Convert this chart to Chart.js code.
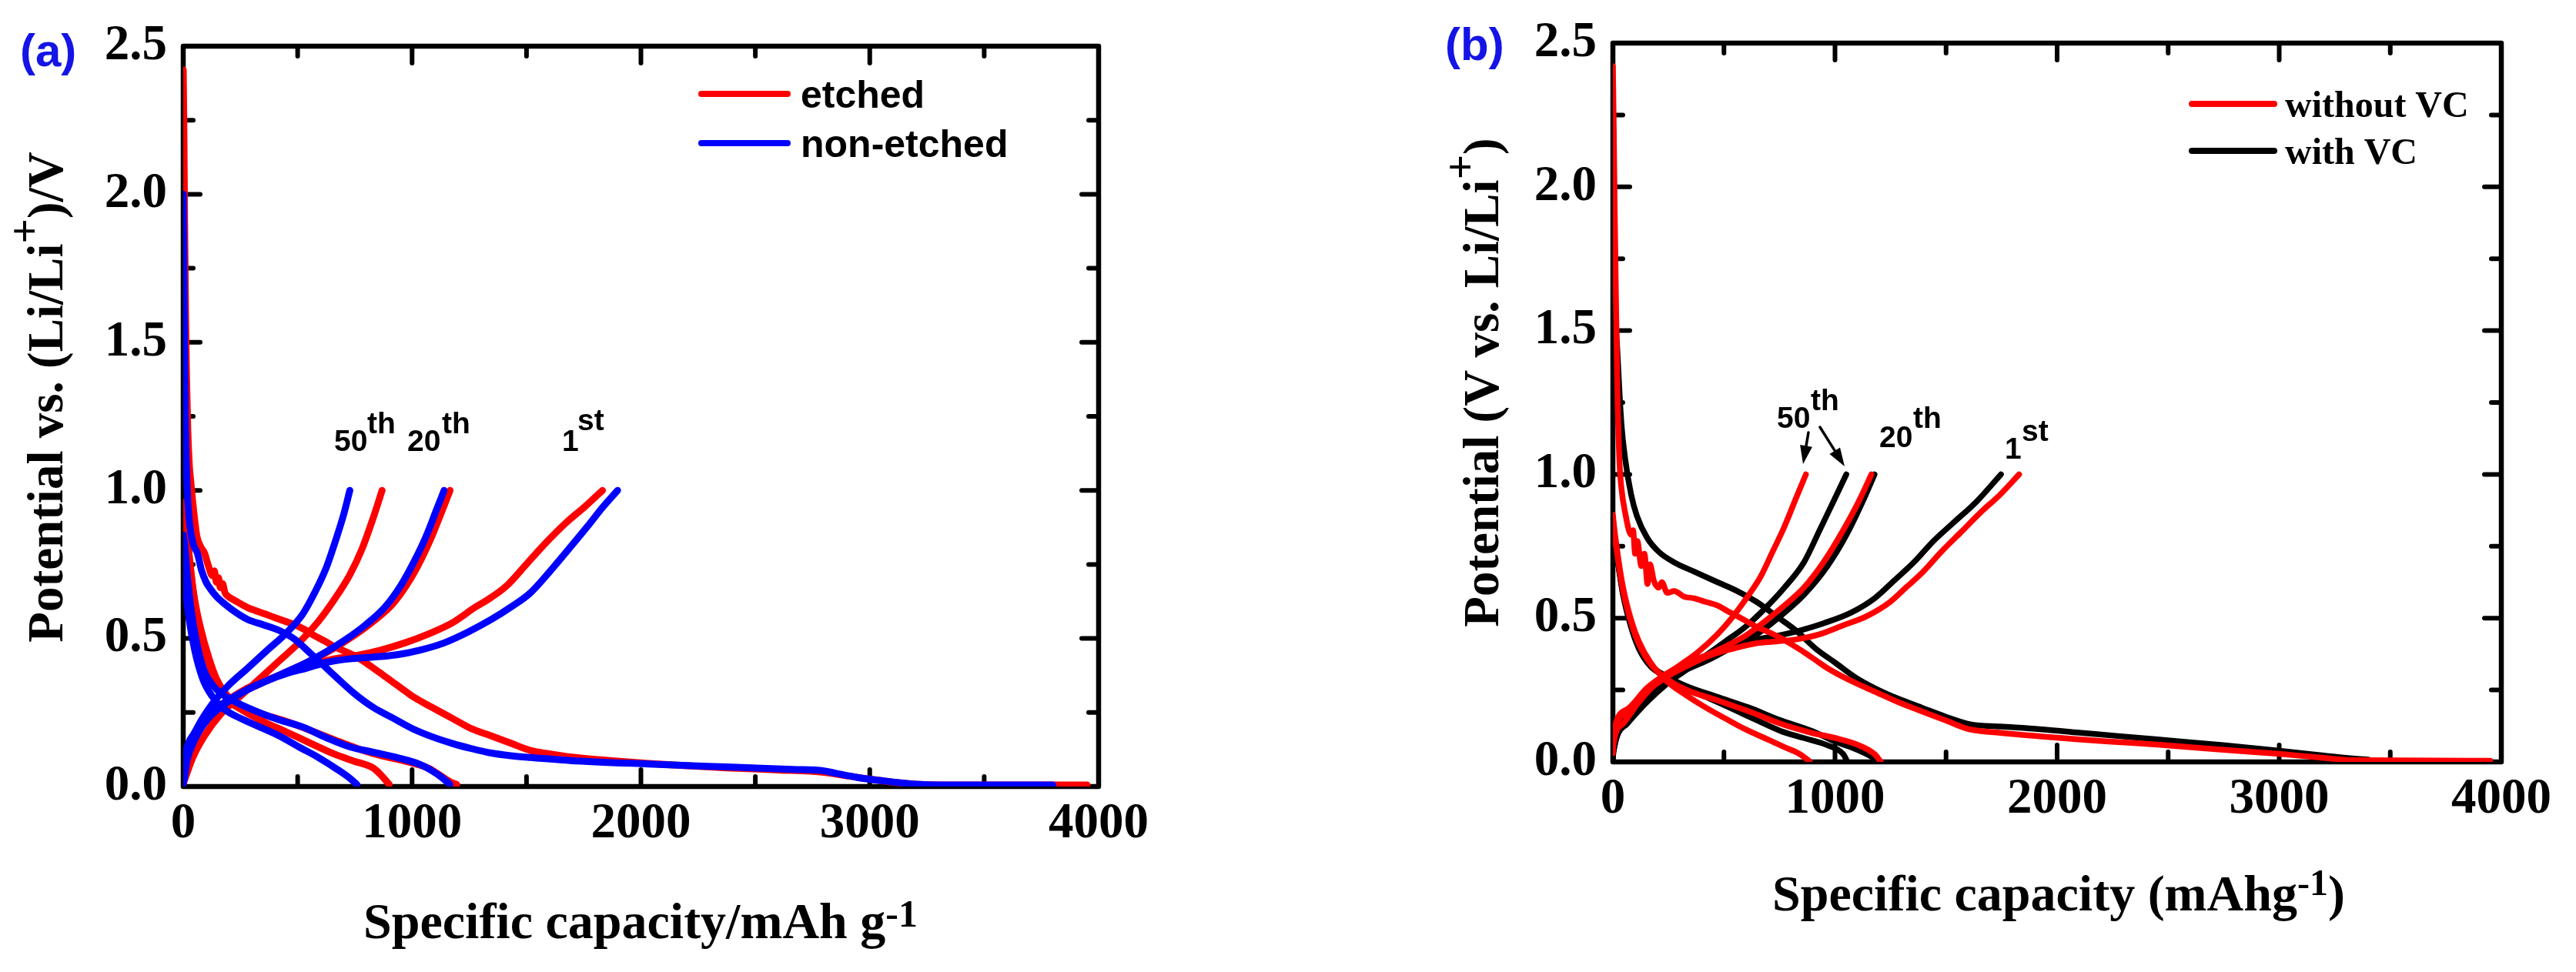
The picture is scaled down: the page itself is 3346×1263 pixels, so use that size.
<!DOCTYPE html>
<html><head><meta charset="utf-8">
<script src="https://cdn.jsdelivr.net/npm/chart.js@4.4.0/dist/chart.umd.min.js"></script>
<style>
html,body{margin:0;padding:0;background:#fff;overflow:hidden}
#wrap{position:relative;width:3346px;height:1263px;background:#fff}
canvas{position:absolute;top:0}
</style></head><body>
<div id="wrap">
<canvas id="ca" width="1673" height="1263" style="left:0;width:1673px;height:1263px"></canvas>
<canvas id="cb" width="1673" height="1263" style="left:1673px;width:1673px;height:1263px"></canvas>
</div>
<script>
// ---------- tick labels ----------
const xTickValues = [0, 1000, 2000, 3000, 4000];
const xTickLabels = ['0', '1000', '2000', '3000', '4000'];
const yTickValues = [0, 0.5, 1.0, 1.5, 2.0, 2.5];
const yTickLabels = ['0.0', '0.5', '1.0', '1.5', '2.0', '2.5'];

// ---------- panel (a): etched (red) / non-etched (blue) ----------
const aEtchedDis1 = [[0,2.42],[3,2.2],[6,1.9],[10,1.6],[14,1.39],[20,1.2],[27,1.08],[33,1.03],[42,0.957],[59,0.848],[76,0.81],[93,0.788],[110,0.745],[127,0.712],[136,0.728],[145,0.69],[154,0.705],[162,0.672],[172,0.685],[182,0.655],[196,0.642],[222,0.63],[248,0.618],[282,0.604],[316,0.594],[360,0.582],[402,0.570],[445,0.558],[488,0.546],[530,0.530],[574,0.509],[616,0.492],[659,0.473],[702,0.458],[745,0.443],[788,0.423],[831,0.400],[874,0.376],[917,0.352],[960,0.328],[1003,0.304],[1088,0.267],[1174,0.231],[1260,0.195],[1346,0.171],[1432,0.146],[1517,0.122],[1603,0.110],[1689,0.100],[1861,0.088],[2032,0.078],[2204,0.070],[2376,0.063],[2600,0.056],[2800,0.048],[2900,0.036],[3000,0.025],[3100,0.015],[3200,0.008],[3400,0.005],[3950,0.005]];
const aEtchedDis20 = [[0,0.96],[7,0.945],[16,0.848],[33,0.727],[50,0.630],[76,0.534],[111,0.437],[145,0.364],[196,0.304],[265,0.267],[351,0.243],[454,0.219],[557,0.189],[659,0.158],[762,0.128],[865,0.104],[968,0.086],[1071,0.062],[1122,0.038],[1174,0.013],[1195,0.007]];
const aEtchedDis50 = [[0,0.94],[7,0.92],[25,0.788],[42,0.667],[67,0.546],[102,0.437],[145,0.352],[196,0.292],[265,0.255],[351,0.219],[454,0.183],[557,0.146],[659,0.110],[745,0.086],[831,0.062],[865,0.038],[900,0.007]];
const aEtchedChg1 = [[0,0.03],[7,0.062],[33,0.134],[76,0.201],[145,0.261],[230,0.310],[316,0.346],[402,0.370],[488,0.394],[574,0.413],[659,0.431],[762,0.443],[865,0.461],[968,0.485],[1071,0.515],[1174,0.552],[1277,0.606],[1329,0.630],[1415,0.679],[1500,0.751],[1586,0.824],[1672,0.890],[1758,0.947],[1832,1.0]];
const aEtchedChg20 = [[0,0.037],[25,0.110],[76,0.195],[145,0.255],[230,0.304],[316,0.340],[402,0.370],[488,0.400],[574,0.431],[659,0.467],[745,0.509],[831,0.558],[917,0.618],[985,0.691],[1037,0.763],[1088,0.848],[1132,0.933],[1166,1.0]];
const aEtchedChg50 = [[0,0.01],[7,0.025],[42,0.098],[93,0.171],[162,0.243],[248,0.304],[334,0.364],[420,0.425],[505,0.485],[591,0.558],[659,0.630],[728,0.715],[780,0.800],[831,0.909],[869,1.0]];

const aNonDis1 = [[0,2.0],[3,1.7],[6,1.45],[10,1.2],[16,1.03],[25,0.909],[42,0.824],[63,0.785],[80,0.73],[100,0.69],[119,0.667],[145,0.642],[179,0.618],[230,0.588],[282,0.564],[351,0.546],[420,0.527],[488,0.497],[540,0.461],[591,0.425],[659,0.376],[745,0.316],[831,0.267],[917,0.231],[1003,0.195],[1088,0.168],[1174,0.146],[1260,0.128],[1346,0.113],[1432,0.104],[1517,0.098],[1689,0.088],[2032,0.076],[2376,0.066],[2663,0.058],[2800,0.053],[2850,0.045],[2950,0.030],[3050,0.020],[3200,0.008],[3300,0.005],[3800,0.005]];
const aNonDis20 = [[0,0.85],[7,0.81],[16,0.727],[33,0.606],[59,0.485],[93,0.388],[145,0.328],[213,0.292],[316,0.255],[420,0.225],[522,0.201],[625,0.165],[728,0.134],[831,0.116],[934,0.098],[1037,0.074],[1106,0.044],[1157,0.013],[1165,0.007]];
const aNonDis50 = [[0,0.82],[4,0.788],[11,0.667],[25,0.570],[50,0.461],[85,0.364],[127,0.304],[179,0.261],[248,0.231],[334,0.201],[420,0.171],[505,0.134],[591,0.098],[677,0.056],[728,0.028],[759,0.007]];
const aNonChg1 = [[0,0.01],[4,0.025],[16,0.086],[50,0.158],[111,0.231],[196,0.286],[282,0.328],[368,0.358],[454,0.382],[540,0.400],[625,0.419],[728,0.431],[831,0.437],[934,0.445],[1037,0.461],[1140,0.485],[1243,0.521],[1346,0.564],[1432,0.606],[1517,0.654],[1603,0.727],[1689,0.806],[1766,0.878],[1835,0.945],[1898,1.0]];
const aNonChg20 = [[0,0.05],[7,0.098],[50,0.183],[111,0.243],[196,0.292],[282,0.328],[368,0.358],[454,0.388],[540,0.419],[625,0.455],[711,0.497],[797,0.546],[882,0.606],[951,0.679],[1011,0.763],[1063,0.848],[1106,0.933],[1140,1.0]];
const aNonChg50 = [[0,0.03],[10,0.09],[25,0.134],[67,0.207],[127,0.279],[196,0.340],[282,0.400],[368,0.461],[454,0.521],[522,0.582],[574,0.654],[625,0.739],[668,0.836],[702,0.921],[728,1.0]];

// ---------- panel (b): without VC (red) / with VC (black) ----------
const bWithoutDis1 = [[0,2.42],[4,2.2],[8,1.927],[15,1.553],[20,1.30],[29,1.055],[38,0.955],[55,0.868],[82,0.79],[91,0.806],[100,0.724],[110,0.768],[128,0.681],[142,0.724],[156,0.619],[167,0.687],[184,0.631],[206,0.606],[220,0.625],[245,0.588],[276,0.594],[320,0.575],[365,0.569],[420,0.556],[471,0.544],[515,0.525],[560,0.507],[605,0.488],[648,0.469],[700,0.452],[754,0.432],[806,0.408],[860,0.382],[913,0.354],[966,0.326],[1072,0.282],[1178,0.245],[1284,0.208],[1390,0.176],[1496,0.145],[1602,0.114],[1744,0.101],[1921,0.089],[2098,0.078],[2274,0.069],[2451,0.060],[2748,0.042],[3000,0.028],[3200,0.014],[3330,0.006],[3950,0.004]];
const bWithoutDis20 = [[0,0.85],[2,0.83],[20,0.72],[46,0.595],[82,0.485],[117,0.41],[170,0.34],[241,0.29],[330,0.251],[471,0.214],[612,0.176],[754,0.133],[895,0.101],[1001,0.083],[1107,0.058],[1178,0.027],[1205,0.002]];
const bWithoutDis50 = [[0,0.86],[2,0.843],[20,0.731],[46,0.606],[82,0.494],[117,0.419],[170,0.345],[241,0.282],[330,0.232],[418,0.189],[506,0.151],[595,0.114],[683,0.083],[771,0.052],[842,0.027],[886,0.002]];
const bWithoutChg1 = [[0,0.05],[2,0.083],[64,0.170],[153,0.245],[241,0.295],[330,0.332],[436,0.370],[542,0.394],[648,0.413],[736,0.419],[824,0.426],[931,0.444],[1037,0.475],[1143,0.507],[1249,0.557],[1319,0.606],[1390,0.656],[1479,0.731],[1567,0.799],[1656,0.868],[1744,0.930],[1829,1.0]];
const bWithoutChg20 = [[0,0.06],[2,0.096],[64,0.183],[153,0.257],[241,0.307],[330,0.345],[418,0.370],[506,0.401],[595,0.438],[683,0.488],[772,0.544],[860,0.606],[948,0.694],[1037,0.806],[1107,0.906],[1164,1.0]];
const bWithoutChg50 = [[0,0.03],[2,0.058],[46,0.133],[117,0.208],[206,0.282],[294,0.332],[383,0.382],[471,0.444],[542,0.507],[612,0.581],[665,0.644],[719,0.731],[772,0.818],[825,0.918],[869,1.0]];

const bWithDis1 = [[0,2.0],[5,1.75],[12,1.55],[20,1.43],[38,1.18],[55,1.055],[82,0.93],[108,0.856],[153,0.781],[206,0.731],[276,0.694],[365,0.662],[471,0.625],[560,0.594],[648,0.556],[736,0.507],[824,0.457],[913,0.394],[1001,0.345],[1090,0.295],[1178,0.257],[1284,0.220],[1390,0.189],[1496,0.158],[1614,0.13],[1744,0.123],[1921,0.114],[2098,0.102],[2274,0.090],[2451,0.078],[2748,0.058],[3000,0.039],[3200,0.022],[3330,0.012],[3400,0.008]];
const bWithDis20 = [[0,0.82],[2,0.80],[20,0.71],[46,0.585],[82,0.472],[117,0.398],[170,0.336],[241,0.298],[330,0.264],[471,0.226],[612,0.189],[754,0.145],[895,0.108],[1001,0.071],[1107,0.04],[1160,0.02],[1196,0.002]];
const bWithDis50 = [[0,0.82],[2,0.80],[20,0.706],[46,0.581],[82,0.469],[117,0.394],[170,0.332],[241,0.295],[330,0.257],[436,0.220],[542,0.183],[648,0.145],[754,0.108],[860,0.083],[966,0.058],[1037,0.027],[1055,0.002]];
const bWithChg1 = [[0,0.01],[2,0.033],[64,0.133],[153,0.220],[241,0.282],[330,0.326],[436,0.370],[542,0.401],[648,0.426],[736,0.438],[842,0.457],[948,0.482],[1072,0.519],[1178,0.569],[1267,0.631],[1355,0.694],[1443,0.768],[1532,0.831],[1638,0.906],[1747,1.0]];
const bWithChg20 = [[0,0.03],[2,0.058],[64,0.158],[153,0.232],[241,0.282],[330,0.320],[436,0.357],[542,0.401],[648,0.444],[754,0.507],[860,0.581],[966,0.681],[1054,0.793],[1125,0.906],[1178,1.0]];
const bWithChg50 = [[0,0.01],[2,0.033],[64,0.133],[153,0.208],[241,0.270],[330,0.320],[418,0.370],[506,0.419],[595,0.469],[683,0.532],[772,0.606],[860,0.694],[931,0.806],[993,0.906],[1051,1.0]];

const legendA = ['etched', 'non-etched'];
const legendB = ['without VC', 'with VC'];
const cycleLabels = [['50', 'th'], ['20', 'th'], ['1', 'st']];

// ---------- helpers ----------
const RED = '#ff0000', BLUE = '#0000ff', BLACK = '#000000';
function ds(arr, color, order, bw) {
  return {
    data: arr.map(p => ({x: p[0], y: p[1]})),
    borderColor: color, backgroundColor: color, borderWidth: bw,
    pointRadius: 0, fill: false, cubicInterpolationMode: 'monotone',
    borderCapStyle: 'round', borderJoinStyle: 'round', order: order
  };
}
// parts: [text, sizeScale, rise(px)]
function setF(ctx, size, sc, fam, wt) { ctx.font = wt + ' ' + Math.round(size * sc) + 'px ' + fam; }
function drawRich(ctx, parts, x, y, size, fam, wt, align) {
  ctx.textAlign = 'left'; ctx.textBaseline = 'alphabetic';
  let w = 0;
  for (const [t, sc] of parts) { setF(ctx, size, sc, fam, wt); w += ctx.measureText(t).width; }
  let cx = align === 'center' ? x - w / 2 : (align === 'right' ? x - w : x);
  for (const [t, sc, rise] of parts) {
    setF(ctx, size, sc, fam, wt);
    ctx.fillText(t, cx, y - rise);
    cx += ctx.measureText(t).width;
  }
}
function arrow(ctx, x1, y1, x2, y2) {
  const ang = Math.atan2(y2 - y1, x2 - x1), hl = 24, hw = 8;
  ctx.lineWidth = 3.5; ctx.strokeStyle = '#000'; ctx.fillStyle = '#000';
  ctx.beginPath(); ctx.moveTo(x1, y1); ctx.lineTo(x2 - hl * Math.cos(ang), y2 - hl * Math.sin(ang)); ctx.stroke();
  ctx.beginPath(); ctx.moveTo(x2, y2);
  ctx.lineTo(x2 - hl * Math.cos(ang) + hw * Math.sin(ang), y2 - hl * Math.sin(ang) - hw * Math.cos(ang));
  ctx.lineTo(x2 - hl * Math.cos(ang) - hw * Math.sin(ang), y2 - hl * Math.sin(ang) + hw * Math.cos(ang));
  ctx.closePath(); ctx.fill();
}

const SERIF = '"Liberation Serif", "Times New Roman", serif';
const SANS = '"Liberation Sans", Arial, sans-serif';

// frame + inward ticks under the data
const framePlugin = {
  id: 'frame',
  beforeDatasetsDraw(chart) {
    const ctx = chart.ctx, {left, right, top, bottom} = chart.chartArea;
    const xs = chart.scales.x, ys = chart.scales.y;
    ctx.save();
    ctx.strokeStyle = '#000'; ctx.lineWidth = 6;
    ctx.lineCap = 'round';
    for (let v = 500; v < 4000; v += 500) {
      const px = xs.getPixelForValue(v), len = (v % 1000 === 0) ? 22 : 13;
      ctx.beginPath(); ctx.moveTo(px, bottom); ctx.lineTo(px, bottom - len); ctx.stroke();
      ctx.beginPath(); ctx.moveTo(px, top); ctx.lineTo(px, top + len); ctx.stroke();
    }
    for (let k = 1; k < 10; k++) {
      const v = k * 0.25, py = ys.getPixelForValue(v), len = (k % 2 === 0) ? 22 : 13;
      ctx.beginPath(); ctx.moveTo(left, py); ctx.lineTo(left + len, py); ctx.stroke();
      ctx.beginPath(); ctx.moveTo(right, py); ctx.lineTo(right - len, py); ctx.stroke();
    }
    ctx.lineWidth = 6.5; ctx.lineJoin = 'round';
    ctx.strokeRect(left, top, right - left, bottom - top);
    ctx.restore();
  }
};

// text overlays: titles, legend, cycle labels, panel label
const overlayPlugin = {
  id: 'overlay',
  afterDraw(chart, args, o) {
    const ctx = chart.ctx, dx = o.offset;
    ctx.save();
    ctx.fillStyle = '#1414e6'; ctx.font = 'bold 60px ' + SANS; ctx.textAlign = 'left'; ctx.textBaseline = 'alphabetic';
    ctx.fillText(o.panel, o.panelX - dx, o.panelY);
    ctx.fillStyle = '#000';
    drawRich(ctx, o.xTitle, o.xTitleX - dx, o.xTitleY, 66, SERIF, 'bold', 'center');
    ctx.save(); ctx.translate(o.yTitleX - dx, o.yTitleY); ctx.rotate(-Math.PI / 2);
    drawRich(ctx, o.yTitle, 0, 0, 65, SERIF, 'bold', 'center');
    ctx.restore();
    o.legend.forEach((it, i) => {
      ctx.strokeStyle = it.color; ctx.lineWidth = o.legLW; ctx.lineCap = 'round';
      ctx.beginPath(); ctx.moveTo(o.legX1 - dx, o.legLineY[i]); ctx.lineTo(o.legX2 - dx, o.legLineY[i]); ctx.stroke();
      ctx.fillStyle = '#000'; ctx.font = o.legFont; ctx.textAlign = 'left';
      ctx.fillText(it.text, o.legTextX - dx, o.legTextY[i]);
    });
    ctx.fillStyle = '#000';
    o.cycles.forEach((c, i) => {
      ctx.font = 'bold 39px ' + SANS; ctx.textAlign = 'left';
      ctx.fillText(cycleLabels[i][0], c[0] - dx, c[1]);
      ctx.fillText(cycleLabels[i][1], c[2] - dx, c[3]);
    });
    (o.arrows || []).forEach(a => arrow(ctx, a[0] - dx, a[1], a[2] - dx, a[3]));
    ctx.restore();
  }
};

function makeChart(id, datasets, box, overlay, W, H) {
  const tickFont = {family: SERIF, weight: 'bold', size: 65, lineHeight: 1};
  return new Chart(document.getElementById(id), {
    type: 'line',
    data: {datasets},
    options: {
      responsive: false, animation: false, devicePixelRatio: 1, events: [],
      layout: {padding: {left: 0, top: box.top, right: W - box.right, bottom: 0}},
      plugins: {legend: {display: false}, tooltip: {enabled: false}, overlay},
      scales: {
        x: {
          type: 'linear', min: 0, max: 4000,
          afterBuildTicks: s => { s.ticks = xTickValues.map(v => ({value: v})); },
          ticks: {callback: v => xTickLabels[xTickValues.indexOf(v)], font: tickFont, color: '#000', padding: 17, maxRotation: 0, autoSkip: false},
          grid: {display: false, drawTicks: false}, border: {display: false},
          afterFit: s => { s.height = H - box.bottom; }
        },
        y: {
          type: 'linear', min: 0, max: 2.5,
          afterBuildTicks: s => { s.ticks = yTickValues.map(v => ({value: v})); },
          ticks: {callback: v => yTickLabels[yTickValues.indexOf(v)], font: tickFont, color: '#000', padding: 21, autoSkip: false},
          grid: {display: false, drawTicks: false}, border: {display: false},
          afterFit: s => { s.width = box.left; }
        }
      }
    },
    plugins: [framePlugin, overlayPlugin]
  });
}

const W = 1673, H = 1263;
const bwA = 9;
makeChart('ca', [
  ds(aEtchedDis1, RED, 1, bwA), ds(aEtchedDis20, RED, 1, bwA), ds(aEtchedDis50, RED, 1, bwA),
  ds(aEtchedChg1, RED, 1, bwA), ds(aEtchedChg20, RED, 1, bwA), ds(aEtchedChg50, RED, 1, bwA),
  ds(aNonDis1, BLUE, 0, bwA), ds(aNonDis20, BLUE, 0, bwA), ds(aNonDis50, BLUE, 0, bwA),
  ds(aNonChg1, BLUE, 0, bwA), ds(aNonChg20, BLUE, 0, bwA), ds(aNonChg50, BLUE, 0, bwA)
], {left: 238, right: 1427, top: 60, bottom: 1022}, {
  offset: 0, panel: '(a)', panelX: 26, panelY: 86,
  xTitle: [['Specific capacity/mAh g', 1, 0], ['-1', 0.75, 15]], xTitleX: 832, xTitleY: 1219,
  yTitle: [['Potential vs. (Li/Li', 1, 0], ['+', 0.88, 30], [')/V', 1, 0]], yTitleX: 81, yTitleY: 516,
  legend: [{text: legendA[0], color: RED}, {text: legendA[1], color: BLUE}],
  legX1: 911, legX2: 1023, legLineY: [122, 186], legLW: 8, legTextX: 1040, legTextY: [140, 204],
  legFont: 'bold 50px ' + SANS,
  cycles: [[434, 586, 477, 563], [529, 586, 574, 563], [730, 586, 750, 559]]
}, W, H);

const bwB = 7.5;
makeChart('cb', [
  ds(bWithoutDis1, RED, 0, bwB), ds(bWithoutDis20, RED, 0, bwB), ds(bWithoutDis50, RED, 0, bwB),
  ds(bWithoutChg1, RED, 0, bwB), ds(bWithoutChg20, RED, 0, bwB), ds(bWithoutChg50, RED, 0, bwB),
  ds(bWithDis1, BLACK, 1, bwB), ds(bWithDis20, BLACK, 1, bwB), ds(bWithDis50, BLACK, 1, bwB),
  ds(bWithChg1, BLACK, 1, bwB), ds(bWithChg20, BLACK, 1, bwB), ds(bWithChg50, BLACK, 1, bwB)
], {left: 2095 - 1673, right: 3249 - 1673, top: 56, bottom: 990}, {
  offset: 1673, panel: '(b)', panelX: 1877, panelY: 78,
  xTitle: [['Specific capacity (mAhg', 1, 0], ['-1', 0.72, 20], [')', 1, 0]], xTitleX: 2674, xTitleY: 1183,
  yTitle: [['Potential (V vs. Li/Li', 1, 0], ['+', 0.88, 30], [')', 1, 0]], yTitleX: 1946, yTitleY: 497,
  legend: [{text: legendB[0], color: RED}, {text: legendB[1], color: BLACK}],
  legX1: 2847, legX2: 2954, legLineY: [135, 196], legLW: 8, legTextX: 2968, legTextY: [152, 213],
  legFont: 'bold 48px ' + SERIF,
  cycles: [[2308, 556, 2352, 533], [2441, 581, 2485, 556], [2604, 596, 2626, 573]],
  arrows: [[2349, 562, 2342, 603], [2364, 555, 2396, 606]]
}, W, H);
</script>
</body></html>
